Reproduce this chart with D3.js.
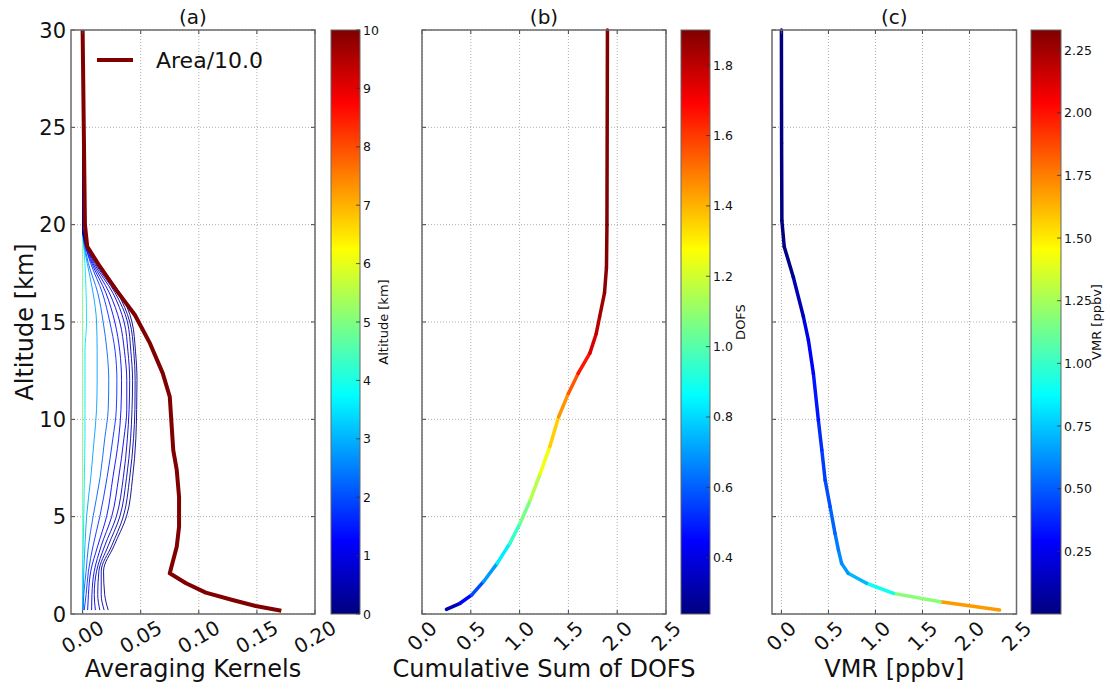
<!DOCTYPE html>
<html lang="en">
<head>
<meta charset="utf-8">
<title>Averaging kernels, DOFS and VMR profiles</title>
<script src="https://d3js.org/d3.v7.min.js"></script>
<style>
  body { margin: 0; background: #fff; }
  text { font-family: "DejaVu Sans", sans-serif; fill: #111; }
</style>
</head>
<body>
<script>
// ---- data ----
const altTicks = [0, 5, 10, 15, 20, 25, 30];

// (a) averaging kernels: common altitude grid, one x-row per kernel
const akAlt = [0.2, 1.0, 2.2, 3.5, 5, 7, 9, 10.5, 12, 13.5, 15, 16.5, 18, 19, 19.8, 30];
const akColorAlt = [0.1, 0.3, 0.5, 0.7, 1.0, 1.3, 1.7, 2.2, 2.8, 3.5, 5.0];
const akRows = [
  [0.022, 0.019, 0.018, 0.027, 0.0377, 0.043, 0.0458, 0.0465, 0.0468, 0.0455, 0.0425, 0.032, 0.013, 0.004, 0, 0],
  [0.0185, 0.016, 0.016, 0.025, 0.035, 0.0405, 0.0438, 0.045, 0.0452, 0.044, 0.0406, 0.030, 0.012, 0.0035, 0, 0],
  [0.0148, 0.013, 0.014, 0.022, 0.032, 0.0378, 0.0413, 0.0425, 0.043, 0.0415, 0.0386, 0.028, 0.011, 0.003, 0, 0],
  [0.011, 0.010, 0.012, 0.019, 0.029, 0.035, 0.0385, 0.040, 0.0405, 0.039, 0.0357, 0.026, 0.010, 0.0028, 0, 0],
  [0.0077, 0.008, 0.010, 0.016, 0.025, 0.031, 0.0355, 0.038, 0.038, 0.036, 0.032, 0.023, 0.009, 0.0025, 0, 0],
  [0.0043, 0.005, 0.007, 0.013, 0.0206, 0.026, 0.031, 0.033, 0.0335, 0.032, 0.0277, 0.020, 0.008, 0.002, 0, 0],
  [0.0014, 0.003, 0.005, 0.009, 0.0148, 0.021, 0.026, 0.029, 0.0295, 0.028, 0.0234, 0.017, 0.007, 0.002, 0, 0],
  [0.0005, 0.001, 0.003, 0.005, 0.009, 0.015, 0.019, 0.022, 0.0225, 0.021, 0.0177, 0.013, 0.005, 0.0015, 0, 0],
  [0, 0.0005, 0.001, 0.002, 0.0034, 0.007, 0.010, 0.012, 0.0125, 0.0125, 0.012, 0.009, 0.004, 0.001, 0, 0],
  [0, 0, 0, 0.0005, 0.001, 0.0015, 0.002, 0.002, 0.002, 0.002, 0.0034, 0.003, 0.002, 0.0008, 0, 0],
  [0, 0, 0, 0, 0, 0, 0, 0, 0, 0, 0, 0, 0, 0, 0, 0]
];

// (a) kernel area / 10
const areaAlt = [0.17, 0.41, 0.72, 1.1, 1.58, 2.09, 3.46, 4.48, 6.02, 7.4, 8.42, 11.16, 12.36, 13.9, 15.36, 16.64, 17.84, 18.87, 20, 30];
const areaVal = [0.171, 0.149, 0.129, 0.106, 0.089, 0.075, 0.081, 0.083, 0.083, 0.081, 0.078, 0.075, 0.069, 0.058, 0.045, 0.029, 0.015, 0.004, 0.002, 0.0];

// (b) cumulative sum of DOFS
const dofsAlt = [0.24, 0.55, 0.98, 1.66, 2.6, 3.63, 4.66, 5.86, 7.2, 8.6, 10.13, 11.33, 12.36, 13.4, 14.4, 15.27, 16.5, 17.8, 20, 30];
const dofsVal = [0.25, 0.39, 0.51, 0.63, 0.77, 0.90, 1.005, 1.11, 1.21, 1.31, 1.40, 1.50, 1.60, 1.72, 1.785, 1.82, 1.87, 1.89, 1.895, 1.9];

// (c) VMR profile
const vmrAlt = [0.2, 0.63, 1.06, 1.58, 2.09, 2.6, 3.29, 4.14, 5.51, 6.88, 8.42, 9.96, 12.36, 14.07, 15.27, 17.3, 18.87, 20.2, 24.2, 30];
const vmrVal = [2.32, 1.69, 1.19, 0.905, 0.71, 0.64, 0.606, 0.57, 0.518, 0.465, 0.43, 0.393, 0.34, 0.287, 0.234, 0.127, 0.03, 0.005, 0.002, 0.0];

const akTicks = [0, 0.05, 0.10, 0.15, 0.20];
const profTicks = [0, 0.5, 1.0, 1.5, 2.0, 2.5];
const cbTicksA = [0, 1, 2, 3, 4, 5, 6, 7, 8, 9, 10];
const cbTicksB = [0.4, 0.6, 0.8, 1.0, 1.2, 1.4, 1.6, 1.8];
const cbTicksC = [0.25, 0.5, 0.75, 1.0, 1.25, 1.5, 1.75, 2.0, 2.25];

// ---- layout ----
const width = 1110, height = 689;
const yTop = 30, yBot = 614;
const svg = d3.select("body").append("svg").attr("width", width).attr("height", height);
svg.append("rect").attr("width", width).attr("height", height).attr("fill", "#fff");

const yScale = d3.scaleLinear().domain([0, 30]).range([yBot, yTop]);

// matplotlib "jet"
const jet = d3.scaleLinear()
  .domain([0, 0.125, 0.375, 0.625, 0.875, 1])
  .range(["#00007f", "#0000ff", "#00ffff", "#ffff00", "#ff0000", "#7f0000"])
  .clamp(true);

const panels = [
  { id: "a", title: "(a)", x0: 71, x1: 315, cb0: 331, cb1: 360, xdom: [-0.01, 0.20], xticks: akTicks, fmt: d3.format(".2f"), rot: -30, labY: 637,
    xlabel: "Averaging Kernels", cdom: [0, 10], cticks: cbTicksA, cfmt: d3.format("d"), clabel: "Altitude [km]", ylabels: true },
  { id: "b", title: "(b)", x0: 422, x1: 666, cb0: 681, cb1: 710, xdom: [0, 2.5], xticks: profTicks, fmt: d3.format(".1f"), rot: -45, labY: 636,
    xlabel: "Cumulative Sum of DOFS", cdom: [0.24, 1.90], cticks: cbTicksB, cfmt: d3.format(".1f"), clabel: "DOFS", ylabels: false },
  { id: "c", title: "(c)", x0: 772, x1: 1016.5, cb0: 1031, cb1: 1061, xdom: [-0.1, 2.5], xticks: profTicks, fmt: d3.format(".1f"), rot: -45, labY: 636,
    xlabel: "VMR [ppbv]", cdom: [0, 2.33], cticks: cbTicksC, cfmt: d3.format(".2f"), clabel: "VMR [ppbv]", ylabels: false }
];

const defs = svg.append("defs");

panels.forEach(p => {
  p.x = d3.scaleLinear().domain(p.xdom).range([p.x0, p.x1]);
  p.c = d3.scaleLinear().domain(p.cdom).range([0, 1]);
  const g = svg.append("g");
  p.g = g;

  // grid
  g.selectAll(".vg").data(p.xticks).enter().append("line")
    .attr("x1", d => p.x(d)).attr("x2", d => p.x(d)).attr("y1", yTop).attr("y2", yBot)
    .attr("stroke", "#9a9a9a").attr("stroke-width", 0.8).attr("stroke-dasharray", "1,2");
  g.selectAll(".hg").data(altTicks).enter().append("line")
    .attr("x1", p.x0).attr("x2", p.x1).attr("y1", d => yScale(d)).attr("y2", d => yScale(d))
    .attr("stroke", "#9a9a9a").attr("stroke-width", 0.8).attr("stroke-dasharray", "1,2");

  // clip
  defs.append("clipPath").attr("id", "clip-" + p.id).append("rect")
    .attr("x", p.x0).attr("y", yTop - 3).attr("width", p.x1 - p.x0).attr("height", yBot - yTop + 3);
  p.plot = g.append("g").attr("clip-path", "url(#clip-" + p.id + ")");

  // ticks (inward, all sides)
  const tk = g.append("g").attr("stroke", "#444").attr("stroke-width", 1);
  p.xticks.forEach(d => {
    tk.append("line").attr("x1", p.x(d)).attr("x2", p.x(d)).attr("y1", yBot).attr("y2", yBot - 4);
    tk.append("line").attr("x1", p.x(d)).attr("x2", p.x(d)).attr("y1", yTop).attr("y2", yTop + 4);
  });
  altTicks.forEach(d => {
    tk.append("line").attr("x1", p.x0).attr("x2", p.x0 + 4).attr("y1", yScale(d)).attr("y2", yScale(d));
    tk.append("line").attr("x1", p.x1).attr("x2", p.x1 - 4).attr("y1", yScale(d)).attr("y2", yScale(d));
  });

  // x tick labels (rotated)
  g.selectAll(".xl").data(p.xticks).enter().append("text")
    .attr("transform", d => `translate(${p.x(d)},${p.labY}) rotate(${p.rot})`)
    .attr("text-anchor", "middle").attr("dominant-baseline", "central")
    .attr("font-size", 20).text(p.fmt);

  if (p.ylabels) {
    g.selectAll(".yl").data(altTicks).enter().append("text")
      .attr("x", p.x0 - 5).attr("y", d => yScale(d)).attr("dy", "0.36em")
      .attr("text-anchor", "end").attr("font-size", 21).text(d => d);
  }

  g.append("text").attr("x", (p.x0 + p.x1) / 2).attr("y", 24)
    .attr("text-anchor", "middle").attr("font-size", 20).text(p.title);
  g.append("text").attr("x", (p.x0 + p.x1) / 2).attr("y", 677)
    .attr("text-anchor", "middle").attr("font-size", 24).text(p.xlabel);

  // colorbar
  const grad = defs.append("linearGradient").attr("id", "grad-" + p.id)
    .attr("x1", 0).attr("x2", 0).attr("y1", 1).attr("y2", 0);
  d3.range(0, 1.0001, 0.025).forEach(t => grad.append("stop").attr("offset", t).attr("stop-color", jet(t)));
  const cy = d3.scaleLinear().domain(p.cdom).range([yBot, yTop]);
  g.append("rect").attr("x", p.cb0).attr("y", yTop).attr("width", p.cb1 - p.cb0).attr("height", yBot - yTop)
    .attr("fill", "url(#grad-" + p.id + ")").attr("stroke", "#666").attr("stroke-width", 1);
  g.selectAll(".ct").data(p.cticks).enter().append("line")
    .attr("x1", p.cb1 - 4).attr("x2", p.cb1).attr("y1", d => cy(d)).attr("y2", d => cy(d))
    .attr("stroke", "#333").attr("stroke-width", 0.8);
  g.selectAll(".cl").data(p.cticks).enter().append("text")
    .attr("x", p.cb1 + 3).attr("y", d => cy(d)).attr("dy", "0.36em")
    .attr("font-size", 12.5).attr("fill", "#222").text(p.cfmt);
  const labX = p.cb1 + (p.id === "a" ? 28 : p.id === "b" ? 35 : 40);
  g.append("text").attr("transform", `translate(${labX},${(yTop + yBot) / 2}) rotate(-90)`)
    .attr("text-anchor", "middle").attr("font-size", 13).attr("fill", "#222").text(p.clabel);
});

// ---- (a) averaging kernels ----
const pa = panels[0];
const akLine = d3.line().x(d => pa.x(d[0])).y(d => yScale(d[1])).curve(d3.curveMonotoneY);
const areaLine = d3.line().x(d => pa.x(d[0])).y(d => yScale(d[1]));
pa.plot.selectAll(".ak").data(akRows.map((row, i) => ({ pts: row.map((v, j) => [v, akAlt[j]]), c: akColorAlt[i] })).reverse())
  .enter().append("path")
  .attr("d", d => akLine(d.pts)).attr("fill", "none")
  .attr("stroke", d => jet(pa.c(d.c))).attr("stroke-width", 0.9);

pa.plot.append("path")
  .attr("d", areaLine(areaVal.map((v, i) => [v, areaAlt[i]])))
  .attr("fill", "none").attr("stroke", "#800000").attr("stroke-width", 4)
  .attr("stroke-linejoin", "round");

// legend
pa.g.append("line").attr("x1", 97).attr("x2", 133).attr("y1", 60).attr("y2", 60)
  .attr("stroke", "#800000").attr("stroke-width", 4);
pa.g.append("text").attr("x", 156).attr("y", 68).attr("font-size", 22).text("Area/10.0");

// y axis title
svg.append("text").attr("transform", `translate(33,${(yTop + yBot) / 2}) rotate(-90)`)
  .attr("text-anchor", "middle").attr("font-size", 24).text("Altitude [km]");

// ---- (b), (c) colour-coded profiles ----
function colouredProfile(p, vals, alts, pick) {
  const segs = d3.range(vals.length - 1).map(i => ({ a: [vals[i], alts[i]], b: [vals[i + 1], alts[i + 1]], v: pick(vals[i], vals[i + 1]) }));
  p.plot.selectAll(".seg").data(segs).enter().append("line")
    .attr("x1", d => p.x(d.a[0])).attr("y1", d => yScale(d.a[1]))
    .attr("x2", d => p.x(d.b[0])).attr("y2", d => yScale(d.b[1]))
    .attr("stroke", d => jet(p.c(d.v))).attr("stroke-width", 3.5).attr("stroke-linecap", "round");
}
colouredProfile(panels[1], dofsVal, dofsAlt, (lo, hi) => (lo + hi) / 2);
colouredProfile(panels[2], vmrVal, vmrAlt, (lo, hi) => hi);

// axes frames on top
panels.forEach(p => {
  p.g.append("rect").attr("x", p.x0).attr("y", yTop).attr("width", p.x1 - p.x0).attr("height", yBot - yTop)
    .attr("fill", "none").attr("stroke", "#6a6a6a").attr("stroke-width", 1.5);
});
</script>
</body>
</html>
